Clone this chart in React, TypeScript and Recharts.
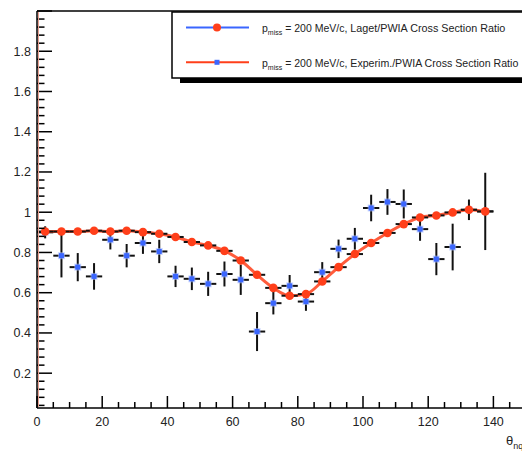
import React from 'react';
import { ComposedChart, Line, Scatter, XAxis, YAxis, ErrorBar } from 'recharts';

// bin centres in theta (deg), 5 deg wide bins
const thetaBins = [
    2.5, 7.5, 12.5, 17.5, 22.5, 27.5, 32.5, 37.5, 42.5, 47.5, 52.5, 57.5, 62.5, 67.5,
    72.5, 77.5, 82.5, 87.5, 92.5, 97.5, 102.5, 107.5, 112.5, 117.5, 122.5, 127.5, 132.5, 137.5
];
const lagetRatio = [
    0.904, 0.904, 0.904, 0.908, 0.904, 0.908, 0.901, 0.893, 0.877, 0.852, 0.835, 0.808, 0.76, 0.689,
    0.624, 0.585, 0.593, 0.656, 0.727, 0.792, 0.847, 0.897, 0.941, 0.974, 0.984, 0.999, 1.012, 1.004
];
const experimRatio = [
    0.9, 0.784, 0.727, 0.681, 0.863, 0.784, 0.847, 0.805, 0.681, 0.669, 0.644, 0.693, 0.664, 0.407,
    0.548, 0.634, 0.556, 0.702, 0.818, 0.868, 1.021, 1.051, 1.041, 0.916, 0.767, 0.827, 1.012, 1.004
];
const experimErr = [
    0.03, 0.108, 0.07, 0.066, 0.048, 0.058, 0.054, 0.058, 0.053, 0.056, 0.06, 0.062, 0.075, 0.097,
    0.056, 0.054, 0.046, 0.05, 0.046, 0.054, 0.066, 0.064, 0.072, 0.058, 0.08, 0.116, 0.051, 0.192
];
const binHalfWidth = 2.5;

const xMajorTicks = [0, 20, 40, 60, 80, 100, 120, 140];
const xTickLabels = ['0', '20', '40', '60', '80', '100', '120', '140'];
const yMajorTicks = [0.2, 0.4, 0.6, 0.8, 1.0, 1.2, 1.4, 1.6, 1.8];
const yTickLabels = ['0.2', '0.4', '0.6', '0.8', '1', '1.2', '1.4', '1.6', '1.8'];

const legendLaget = 'Laget/PWIA  Cross Section Ratio';
const legendExperim = 'Experim./PWIA Cross Section Ratio';

const RED = '#ff3f1a';
const BLUE = '#3a66ff';
const FONT = '"Liberation Sans", Arial, Helvetica, sans-serif';
const TICK_MARGIN = 4;

// minor ticks every 5 deg on x, every 0.04 on y
const xAllTicks: number[] = [];
for (let i = 0; i <= 30; i++) xAllTicks.push(i * 5);
const yAllTicks: number[] = [];
for (let i = 1; i <= 50; i++) yAllTicks.push(Math.round(i * 4) / 100);

const data = thetaBins.map((theta, i) => ({
    theta,
    laget: lagetRatio[i],
    experim: experimRatio[i],
    experimErr: experimErr[i],
    xErr: binHalfWidth
}));

const XTick = (props: any) => {
    const { x, y, payload } = props;
    const idx = xMajorTicks.indexOf(payload.value);
    const major = idx >= 0;
    const axisY = y - TICK_MARGIN;
    return (
        <g>
            <line x1={x} x2={x} y1={axisY} y2={axisY - (major ? 12 : 6)} stroke="#000" strokeWidth={1.5} />
            {major && (
                <text x={x} y={axisY + 18} textAnchor="middle" fontFamily={FONT} fontSize={12.5} fill="#222">
                    {xTickLabels[idx]}
                </text>
            )}
        </g>
    );
};

const YTick = (props: any) => {
    const { x, y, payload } = props;
    const idx = yMajorTicks.findIndex(v => Math.abs(v - payload.value) < 1e-6);
    const major = idx >= 0 || Math.abs(payload.value - 2.0) < 1e-6;
    const axisX = x + TICK_MARGIN;
    return (
        <g>
            <line x1={axisX} x2={axisX + (major ? 15 : 7.5)} y1={y} y2={y} stroke="#000" strokeWidth={1.5} />
            {idx >= 0 && (
                <text x={axisX - 6} y={y + 4.5} textAnchor="end" fontFamily={FONT} fontSize={12.5} fill="#222">
                    {yTickLabels[idx]}
                </text>
            )}
        </g>
    );
};

const BlueMarker = (props: any) => {
    const { cx, cy } = props;
    if (cx == null || cy == null) return null;
    return (
        <g>
            <rect x={cx - 3.5} y={cy - 3.5} width={7} height={7} fill="#a9bcff" opacity={0.6} />
            <rect x={cx - 2.5} y={cy - 2.5} width={5} height={5} fill={BLUE} />
        </g>
    );
};

const RedMarker = (props: any) => {
    const { cx, cy } = props;
    if (cx == null || cy == null) return null;
    return <circle cx={cx} cy={cy} r={4.3} fill={RED} />;
};

const LegendOverlay = () => (
    <svg width={522} height={451} style={{ position: 'absolute', left: 0, top: 0, pointerEvents: 'none' }}>
        {/* frame top and faint reddish stripe along y axis */}
        <line x1={37} x2={522} y1={11} y2={11} stroke="#000" strokeWidth={1.5} />
        <line x1={38.5} x2={38.5} y1={12} y2={407} stroke="#e8a090" strokeWidth={1} />

        {/* legend box with drop shadow */}
        <rect x={180} y={78} width={360} height={5} fill="#000" />
        <rect x={172} y={12} width={360} height={66} fill="#fff" stroke="#000" strokeWidth={1.5} />

        <line x1={186} x2={249} y1={27.5} y2={27.5} stroke={BLUE} strokeWidth={2} />
        <circle cx={217} cy={27.5} r={4} fill={RED} />
        <text x={262} y={32} fontFamily={FONT} fontSize={10.5} fill="#222">
            p
            <tspan fontSize={7} dy={3}>miss</tspan>
            <tspan dy={-3} dx={3}>= 200  MeV/c, </tspan>
            <tspan textLength={155} lengthAdjust="spacingAndGlyphs">{legendLaget}</tspan>
        </text>

        <line x1={186} x2={249} y1={62.3} y2={62.3} stroke={RED} strokeWidth={2} />
        <rect x={214.5} y={59.8} width={5} height={5} fill={BLUE} />
        <text x={262} y={66.8} fontFamily={FONT} fontSize={10.5} fill="#222">
            p
            <tspan fontSize={7} dy={3}>miss</tspan>
            <tspan dy={-3} dx={3}>= 200  MeV/c, </tspan>
            <tspan textLength={168} lengthAdjust="spacingAndGlyphs">{legendExperim}</tspan>
        </text>

        {/* x axis title, cut off at the right edge like the original */}
        <text x={506} y={445} fontFamily={FONT} fontSize={13} fill="#222">
            θ
            <tspan fontSize={9} dy={4}>nq</tspan>
        </text>
    </svg>
);

export default function App() {
    return (
        <div
            style={{
                position: 'fixed',
                left: 0,
                top: 0,
                width: 522,
                height: 451,
                overflow: 'hidden',
                background: '#fff'
            }}
        >
            <ComposedChart width={526} height={451} data={data} margin={{ top: 11, right: 0, bottom: 0, left: 0 }}>
                <XAxis
                    dataKey="theta"
                    type="number"
                    domain={[0, 150]}
                    ticks={xAllTicks}
                    interval={0}
                    allowDataOverflow
                    height={43}
                    tickSize={0}
                    tickMargin={TICK_MARGIN}
                    tick={<XTick />}
                    axisLine={{ stroke: '#000', strokeWidth: 1.5 }}
                />
                <YAxis
                    type="number"
                    domain={[0.027, 2.0]}
                    ticks={yAllTicks}
                    interval={0}
                    allowDataOverflow
                    width={37}
                    tickSize={0}
                    tickMargin={TICK_MARGIN}
                    tick={<YTick />}
                    axisLine={{ stroke: '#000', strokeWidth: 1.5 }}
                />
                <Scatter dataKey="experim" shape={<BlueMarker />} isAnimationActive={false}>
                    <ErrorBar dataKey="experimErr" direction="y" width={0} stroke="#111" strokeWidth={2} />
                    <ErrorBar dataKey="xErr" direction="x" width={0} stroke="#111" strokeWidth={2} />
                </Scatter>
                <Line
                    type="monotone"
                    dataKey="laget"
                    stroke={RED}
                    strokeWidth={3}
                    strokeOpacity={0.85}
                    dot={false}
                    activeDot={false}
                    isAnimationActive={false}
                />
                <Scatter dataKey="laget" shape={<RedMarker />} isAnimationActive={false}>
                    <ErrorBar dataKey="xErr" direction="x" width={0} stroke="#111" strokeWidth={2} />
                </Scatter>
            </ComposedChart>
            <LegendOverlay />
        </div>
    );
}
